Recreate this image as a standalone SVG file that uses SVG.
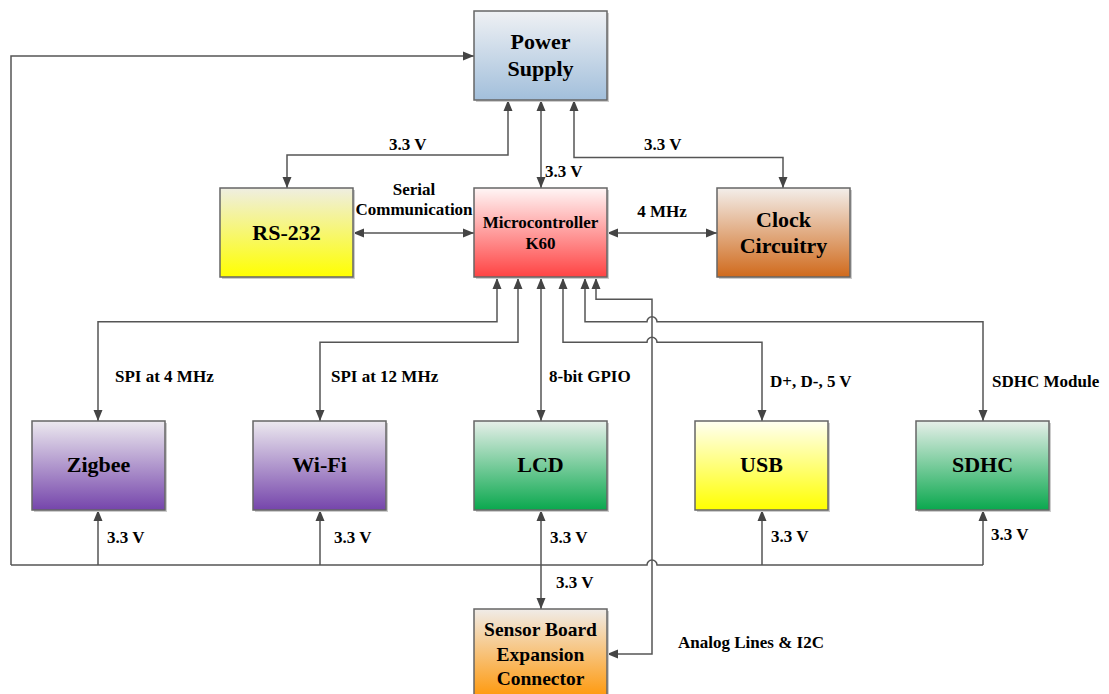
<svg xmlns="http://www.w3.org/2000/svg" width="1109" height="694" viewBox="0 0 1109 694">
<style>
.box{stroke:#666;stroke-width:1.5}
.sh{fill:#cccccc}
.t{font-family:'Liberation Serif','Tinos','Times New Roman','Times','Noto Serif','DejaVu Serif','FreeSerif','Nimbus Roman',serif;font-weight:bold;fill:#000}
.bt{font-size:22px;text-anchor:middle}
.lb{font-size:17px}
.c{fill:none;stroke:#555;stroke-width:1.5}
</style>
<defs>
<marker id="ah" markerUnits="userSpaceOnUse" markerWidth="12" markerHeight="10" refX="11" refY="4.5" orient="auto-start-reverse" viewBox="0 0 12 9">
<path d="M0,0 L11,4.5 L0,9 z" fill="#444"/>
</marker>
<linearGradient id="gPS" x1="0" y1="0" x2="0" y2="1"><stop offset="0" stop-color="#eff1f4"/><stop offset="1" stop-color="#a2bfdb"/></linearGradient>
<linearGradient id="gMC" x1="0" y1="0" x2="0" y2="1"><stop offset="0" stop-color="#fff6f6"/><stop offset="1" stop-color="#ff4343"/></linearGradient>
<linearGradient id="gY" x1="0" y1="0" x2="0" y2="1"><stop offset="0" stop-color="#efeee2"/><stop offset="1" stop-color="#ffff00"/></linearGradient>
<linearGradient id="gYU" x1="0" y1="0" x2="0" y2="1"><stop offset="0" stop-color="#fffff2"/><stop offset="1" stop-color="#ffff00"/></linearGradient>
<linearGradient id="gCK" x1="0" y1="0" x2="0" y2="1"><stop offset="0" stop-color="#f3eeea"/><stop offset="1" stop-color="#d06a1c"/></linearGradient>
<linearGradient id="gPU" x1="0" y1="0" x2="0" y2="1"><stop offset="0" stop-color="#ece9ef"/><stop offset="1" stop-color="#7545ab"/></linearGradient>
<linearGradient id="gGR" x1="0" y1="0" x2="0" y2="1"><stop offset="0" stop-color="#e6efe9"/><stop offset="1" stop-color="#0aa84e"/></linearGradient>
<linearGradient id="gOR" x1="0" y1="0" x2="0" y2="1"><stop offset="0" stop-color="#f0ece8"/><stop offset="1" stop-color="#ff980a"/></linearGradient>
</defs>
<rect width="1109" height="694" fill="#fff"/>

<g id="connectors" class="c">
<path d="M11,565 V56 H474" marker-end="url(#ah)"/>
<path d="M508,100 V155 H287 V188" marker-start="url(#ah)" marker-end="url(#ah)"/>
<path d="M541,100 V188" marker-start="url(#ah)" marker-end="url(#ah)"/>
<path d="M574,100 V157.5 H783 V188" marker-start="url(#ah)" marker-end="url(#ah)"/>
<path d="M353,233 H474" marker-start="url(#ah)" marker-end="url(#ah)"/>
<path d="M607,233 H717" marker-start="url(#ah)" marker-end="url(#ah)"/>
<path d="M497,278 V321.7 H98 V421" marker-start="url(#ah)" marker-end="url(#ah)"/>
<path d="M518,278 V342.3 H320 V421" marker-start="url(#ah)" marker-end="url(#ah)"/>
<path d="M541,278 V421" marker-start="url(#ah)" marker-end="url(#ah)"/>
<path d="M563,278 V342.3 H647 a5,5 0 0 1 10,0 H762 V421" marker-start="url(#ah)" marker-end="url(#ah)"/>
<path d="M585,278 V321.7 H647 a5,5 0 0 1 10,0 H983 V421" marker-start="url(#ah)" marker-end="url(#ah)"/>
<path d="M596,278 V299.3 H652 V654 H607" marker-start="url(#ah)" marker-end="url(#ah)"/>
<path d="M11,565 H647 a5,5 0 0 1 10,0 H983"/>
<path d="M98,565 V510" marker-end="url(#ah)"/>
<path d="M320,565 V510" marker-end="url(#ah)"/>
<path d="M762,565 V510" marker-end="url(#ah)"/>
<path d="M983,565 V510" marker-end="url(#ah)"/>
<path d="M541,510 V609" marker-start="url(#ah)" marker-end="url(#ah)"/>
</g>

<g id="labels" class="t lb">
<text x="389" y="150">3.3 V</text>
<text x="545" y="177">3.3 V</text>
<text x="644" y="150">3.3 V</text>
<text x="414" y="195" text-anchor="middle">Serial</text>
<text x="414" y="215" text-anchor="middle">Communication</text>
<text x="662" y="217" text-anchor="middle">4 MHz</text>
<text x="115" y="382">SPI at 4 MHz</text>
<text x="331" y="382">SPI at 12 MHz</text>
<text x="549" y="382">8-bit GPIO</text>
<text x="770" y="387">D+, D-, 5 V</text>
<text x="992" y="387">SDHC Module</text>
<text x="107" y="543">3.3 V</text>
<text x="334" y="543">3.3 V</text>
<text x="550" y="543">3.3 V</text>
<text x="771" y="542">3.3 V</text>
<text x="991" y="540">3.3 V</text>
<text x="556" y="588">3.3 V</text>
<text x="678" y="648">Analog Lines &amp; I2C</text>
</g>

<g id="power-supply">
<rect class="sh" x="476" y="13" width="133" height="89"/>
<rect class="box" x="474" y="11" width="133" height="89" fill="url(#gPS)"/>
<text class="t bt" x="540.5" y="49">Power</text>
<text class="t bt" x="540.5" y="76">Supply</text>
</g>

<g id="rs232">
<rect class="sh" x="222" y="190" width="133" height="89"/>
<rect class="box" x="220" y="188" width="133" height="89" fill="url(#gY)"/>
<text class="t bt" x="286.5" y="240">RS-232</text>
</g>

<g id="microcontroller">
<rect class="sh" x="476" y="190" width="133" height="89"/>
<rect class="box" x="474" y="188" width="133" height="89" fill="url(#gMC)"/>
<text class="t" x="540.5" y="228" font-size="17" text-anchor="middle">Microcontroller</text>
<text class="t" x="540.5" y="248.5" font-size="17" text-anchor="middle">K60</text>
</g>

<g id="clock">
<rect class="sh" x="719" y="190" width="133" height="89"/>
<rect class="box" x="717" y="188" width="133" height="89" fill="url(#gCK)"/>
<text class="t bt" x="783.5" y="227">Clock</text>
<text class="t bt" x="783.5" y="253">Circuitry</text>
</g>

<g id="zigbee">
<rect class="sh" x="34" y="423" width="133" height="89"/>
<rect class="box" x="32" y="421" width="133" height="89" fill="url(#gPU)"/>
<text class="t bt" x="98.5" y="472">Zigbee</text>
</g>

<g id="wifi">
<rect class="sh" x="255" y="423" width="133" height="89"/>
<rect class="box" x="253" y="421" width="133" height="89" fill="url(#gPU)"/>
<text class="t bt" x="319.5" y="472">Wi-Fi</text>
</g>

<g id="lcd">
<rect class="sh" x="476" y="423" width="133" height="89"/>
<rect class="box" x="474" y="421" width="133" height="89" fill="url(#gGR)"/>
<text class="t bt" x="540.5" y="472">LCD</text>
</g>

<g id="usb">
<rect class="sh" x="697" y="423" width="133" height="89"/>
<rect class="box" x="695" y="421" width="133" height="89" fill="url(#gYU)"/>
<text class="t bt" x="761.5" y="472">USB</text>
</g>

<g id="sdhc">
<rect class="sh" x="918" y="423" width="133" height="89"/>
<rect class="box" x="916" y="421" width="133" height="89" fill="url(#gGR)"/>
<text class="t bt" x="982.5" y="472">SDHC</text>
</g>

<g id="sensor-board">
<rect class="sh" x="476" y="611" width="133" height="89"/>
<rect class="box" x="474" y="609" width="133" height="89" fill="url(#gOR)"/>
<text class="t" x="540.5" y="636" font-size="19.5" text-anchor="middle">Sensor Board</text>
<text class="t" x="540.5" y="661" font-size="19.5" text-anchor="middle">Expansion</text>
<text class="t" x="540.5" y="685" font-size="19.5" text-anchor="middle">Connector</text>
</g>
</svg>
